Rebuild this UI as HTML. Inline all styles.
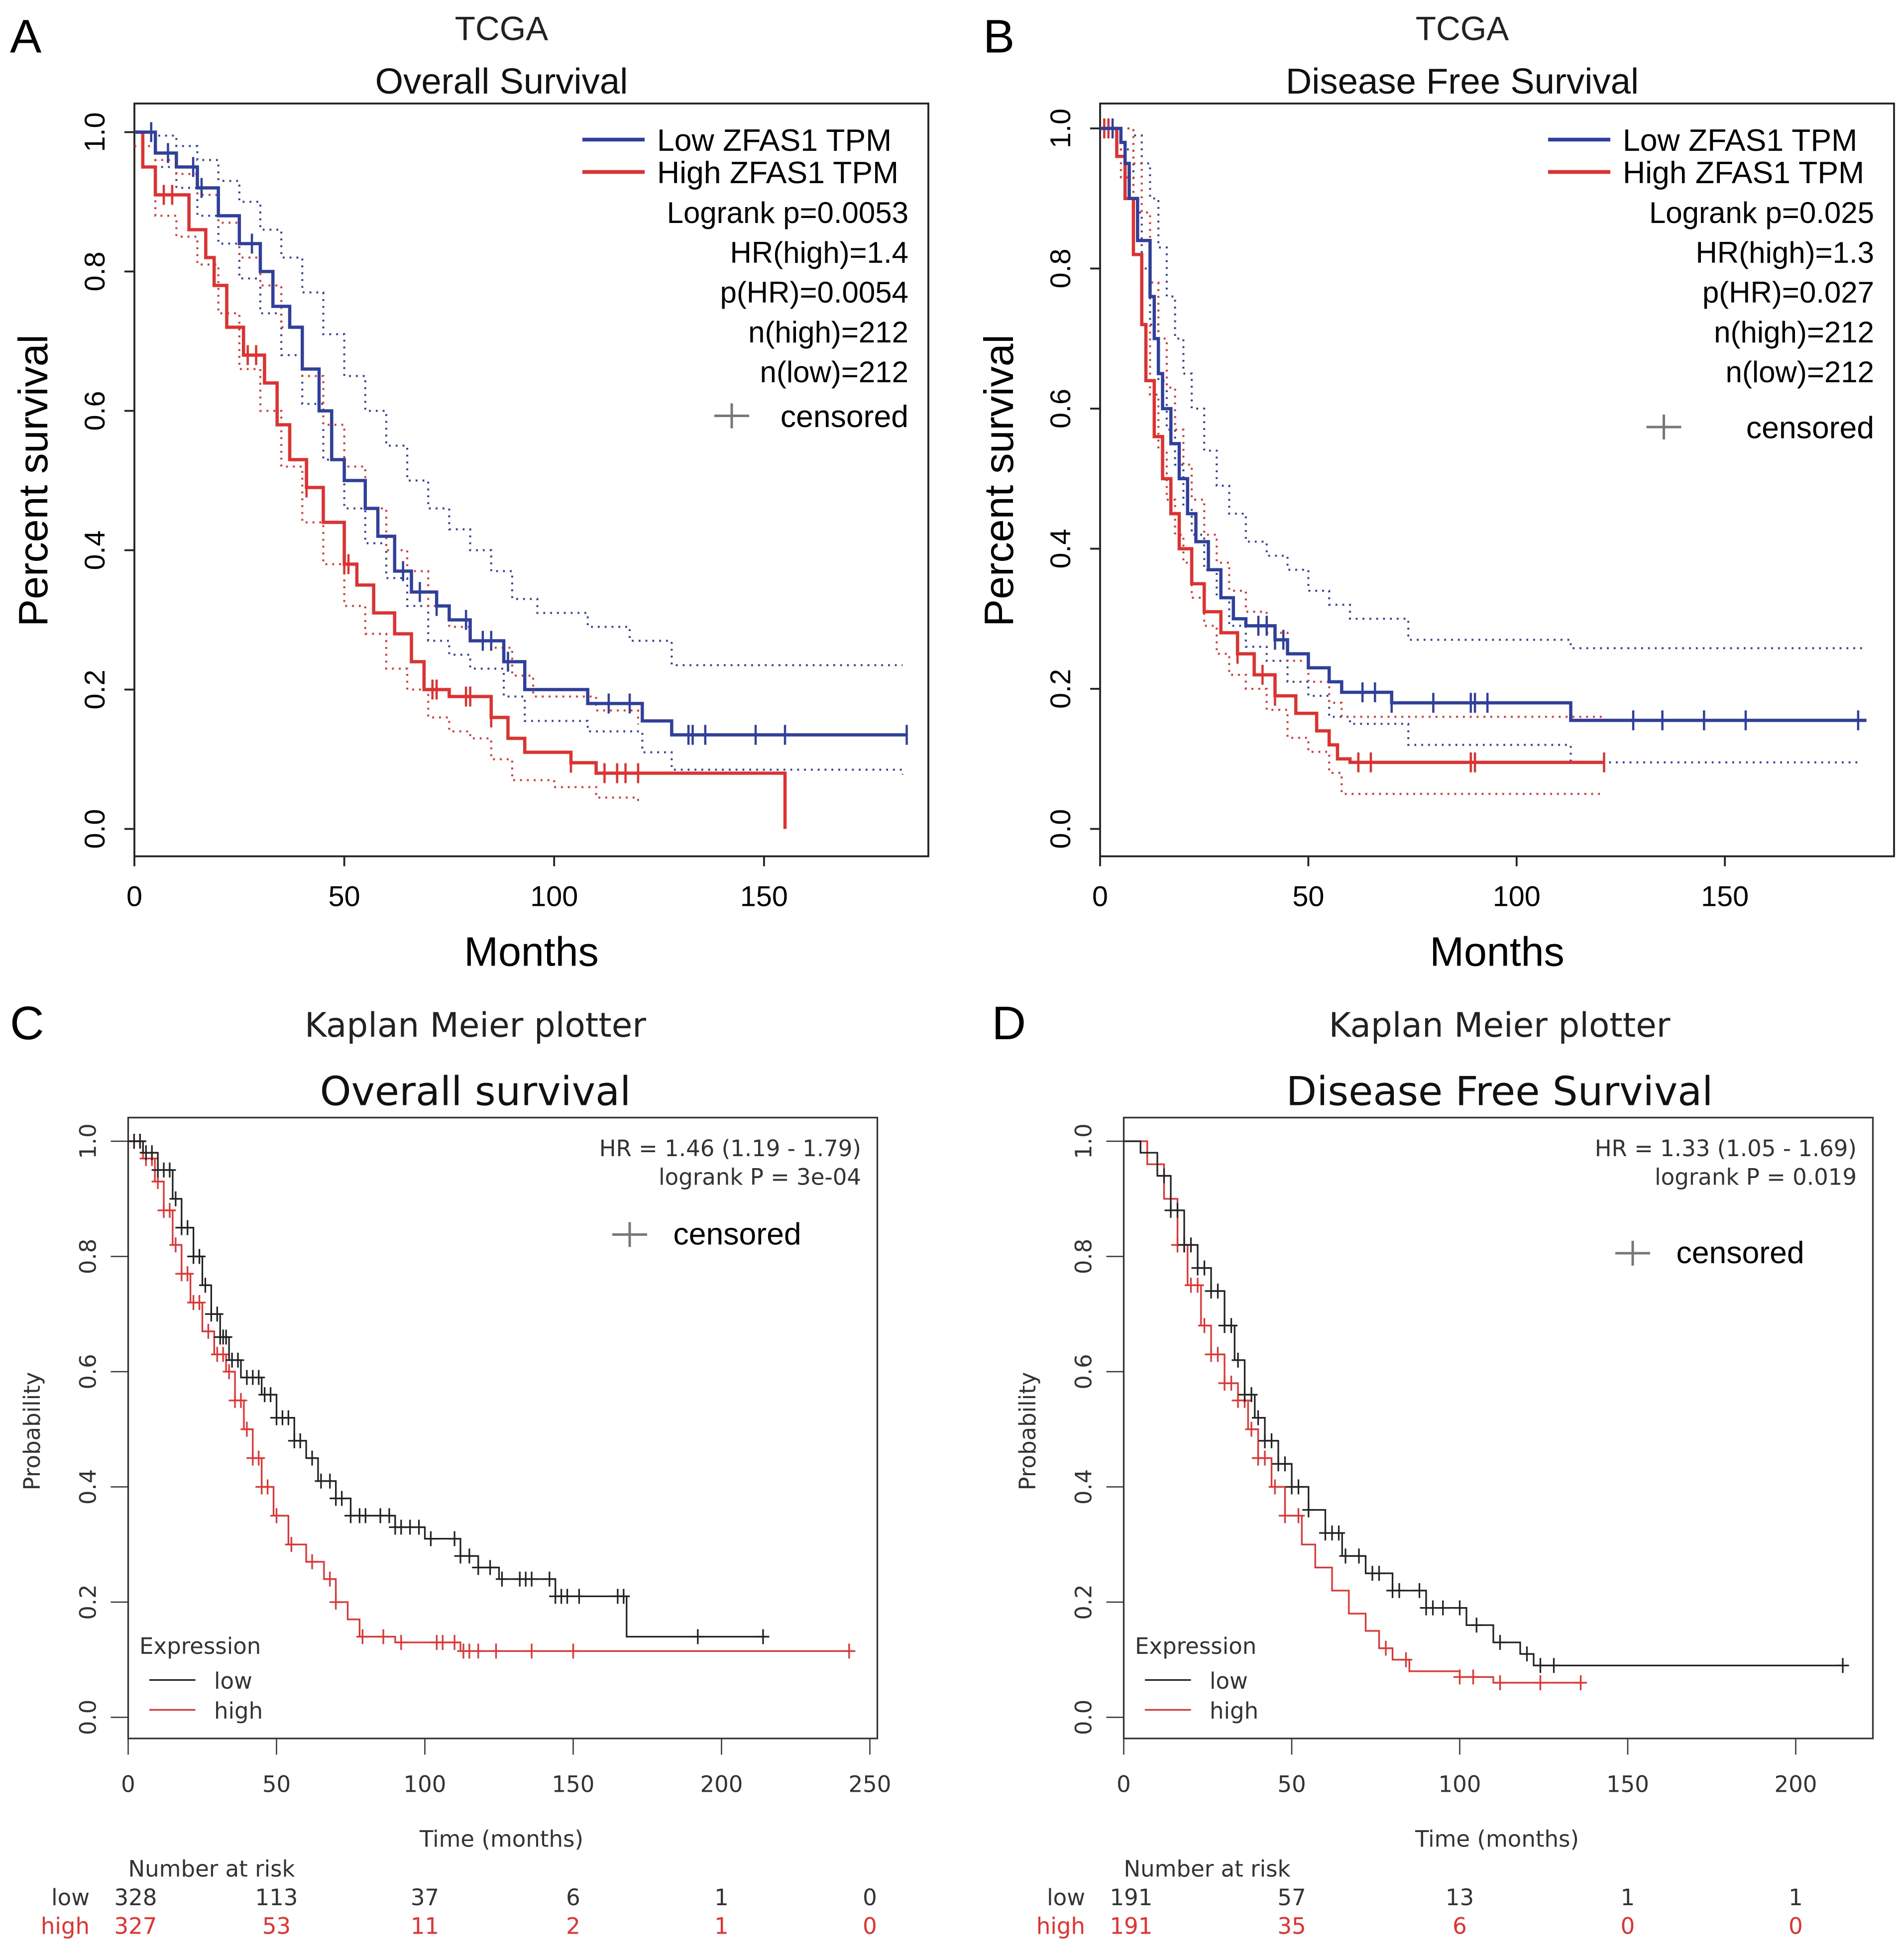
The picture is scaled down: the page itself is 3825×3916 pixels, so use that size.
<!DOCTYPE html>
<html><head><meta charset="utf-8">
<style>
html,body{margin:0;padding:0;background:#fff;}
svg{display:block;}
text{font-family:"Liberation Sans",sans-serif;}
</style></head>
<body>
<svg id="fig" width="3825" height="3916" viewBox="0 0 1530 1566" xmlns="http://www.w3.org/2000/svg">
</svg>
<script>
// ===== Panel A data (TCGA Overall Survival) =====
const aLowSteps = [[0,1],[5,0.97],[10,0.95],[15,0.92],[20,0.88],[25,0.84],[30,0.80],[33,0.75],[37,0.72],[40,0.66],[44,0.60],[47,0.53],[50,0.50],[55,0.46],[58,0.42],[62,0.37],[66,0.34],[72,0.32],[75,0.30],[80,0.27],[88,0.24],[93,0.20],[108,0.18],[121,0.155],[128,0.135]];
const aLowEnd = 184;
const aLowCens = [4,8,14,16,28,64,68,72,79,83,85,89,113,118,132,133,136,148,155,184];
const aHighSteps = [[0,1],[2,0.95],[5,0.91],[13,0.86],[17,0.82],[19,0.78],[22,0.72],[26,0.68],[31,0.64],[34,0.58],[37,0.53],[41,0.49],[45,0.44],[50,0.38],[53,0.35],[57,0.31],[62,0.28],[66,0.24],[69,0.20],[75,0.19],[85,0.16],[89,0.13],[93,0.11],[104,0.095],[110,0.08],[155,0]];
const aHighEnd = 155;
const aHighCens = [7,9,27,29,41,50,51,71,72,79,80,85,104,112,115,117,120];
const aLowUpper = [[0,1],[5,0.995],[10,0.98],[15,0.96],[20,0.93],[25,0.9],[30,0.86],[35,0.82],[40,0.77],[45,0.71],[50,0.65],[55,0.6],[60,0.55],[65,0.5],[70,0.46],[75,0.43],[80,0.40],[85,0.37],[90,0.33],[96,0.31],[108,0.29],[118,0.27],[128,0.235],[183,0.235]];
const aLowLower = [[0,1],[5,0.95],[10,0.92],[15,0.88],[20,0.84],[25,0.79],[30,0.74],[35,0.68],[40,0.61],[45,0.53],[50,0.46],[55,0.41],[60,0.36],[65,0.32],[70,0.27],[75,0.25],[80,0.23],[88,0.19],[93,0.155],[108,0.14],[121,0.11],[128,0.085],[183,0.078]];
const aHighUpper = [[0,1],[5,0.96],[10,0.94],[15,0.91],[20,0.87],[25,0.82],[30,0.78],[35,0.72],[40,0.65],[45,0.58],[50,0.52],[55,0.46],[60,0.40],[65,0.37],[70,0.32],[75,0.29],[80,0.27],[85,0.26],[90,0.22],[95,0.19],[110,0.17],[120,0.15]];
const aHighLower = [[0,0.98],[5,0.88],[10,0.85],[15,0.81],[20,0.74],[25,0.66],[30,0.60],[35,0.52],[40,0.44],[45,0.38],[50,0.32],[55,0.28],[60,0.23],[65,0.20],[70,0.16],[75,0.14],[80,0.13],[85,0.10],[90,0.07],[100,0.06],[110,0.045],[120,0.04]];

// ===== Panel B data (TCGA Disease Free Survival) =====
const bLowSteps = [[0,1],[5,0.98],[6,0.95],[7,0.90],[9,0.84],[12,0.76],[13,0.70],[14,0.65],[15,0.60],[17,0.55],[19,0.50],[21,0.45],[23,0.41],[26,0.37],[29,0.33],[32,0.30],[35,0.29],[42,0.27],[45,0.25],[50,0.23],[55,0.21],[58,0.195],[70,0.18],[74,0.18],[113,0.155]];
const bLowEnd = 184;
const bLowCens = [3,38,40,42,44,63,66,70,80,89,90,93,128,135,145,155,182];
const bHighSteps = [[0,1],[4,0.96],[6,0.90],[8,0.82],[10,0.72],[11,0.64],[13,0.56],[15,0.50],[17,0.45],[19,0.40],[22,0.35],[25,0.31],[29,0.28],[33,0.25],[37,0.22],[42,0.19],[47,0.165],[52,0.14],[55,0.12],[57,0.10],[60,0.095]];
const bHighEnd = 121;
const bHighCens = [1,2,33,39,42,62,65,89,90,121];
const bLowUpper = [[0,1],[5,1],[8,0.99],[10,0.95],[12,0.90],[14,0.83],[16,0.76],[18,0.70],[20,0.65],[22,0.60],[25,0.54],[28,0.49],[31,0.45],[35,0.41],[40,0.39],[45,0.37],[50,0.34],[55,0.32],[60,0.30],[74,0.27],[113,0.258],[183,0.258]];
const bLowLower = [[0,1],[5,0.97],[8,0.88],[10,0.80],[12,0.72],[14,0.64],[16,0.57],[18,0.52],[20,0.46],[22,0.42],[25,0.37],[28,0.33],[31,0.29],[35,0.26],[40,0.24],[45,0.21],[50,0.19],[55,0.16],[60,0.15],[74,0.12],[113,0.095],[183,0.095]];
const bHighUpper = [[0,1],[5,1],[8,0.95],[10,0.88],[12,0.78],[14,0.70],[16,0.63],[18,0.57],[20,0.52],[22,0.47],[25,0.42],[28,0.38],[31,0.34],[35,0.31],[40,0.28],[45,0.24],[50,0.21],[55,0.18],[58,0.16],[121,0.16]];
const bHighLower = [[0,1],[5,0.93],[8,0.82],[10,0.72],[12,0.62],[14,0.54],[16,0.47],[18,0.42],[20,0.38],[22,0.33],[25,0.29],[28,0.25],[31,0.22],[35,0.20],[40,0.17],[45,0.13],[50,0.11],[55,0.08],[58,0.05],[121,0.05]];

// ===== Panel C data (KM plotter OS) =====
const cLowSteps = [[0,1],[5,0.98],[10,0.95],[15,0.90],[18,0.85],[22,0.80],[25,0.75],[28,0.70],[31,0.66],[34,0.62],[38,0.59],[45,0.56],[50,0.52],[56,0.48],[60,0.45],[64,0.41],[70,0.38],[75,0.35],[90,0.33],[100,0.31],[112,0.28],[118,0.26],[125,0.24],[144,0.21],[168,0.14]];
const cLowEnd = 215;
const cLowCens = [2,4,6,8,10,12,14,16,18,20,22,24,26,28,30,31,32,33,35,37,40,42,44,46,48,50,52,54,56,58,62,65,68,70,72,75,78,80,85,88,90,92,95,98,102,110,112,115,118,122,126,132,134,136,142,144,146,148,152,165,167,192,214];
const cHighSteps = [[0,1],[5,0.97],[9,0.93],[12,0.88],[15,0.82],[18,0.77],[21,0.72],[25,0.67],[29,0.63],[33,0.60],[36,0.55],[39,0.50],[42,0.45],[45,0.40],[49,0.35],[54,0.30],[60,0.27],[66,0.24],[70,0.20],[74,0.17],[78,0.14],[90,0.13],[112,0.115]];
const cHighEnd = 244;
const cHighCens = [2,4,6,8,10,12,14,16,18,20,22,24,27,30,32,34,36,38,40,42,44,45,47,50,55,62,68,70,79,86,92,104,106,110,113,115,118,124,136,150,243];
const cTicks = [0,50,100,150,200,250];
const cRiskLow = ["328","113","37","6","1","0"];
const cRiskHigh = ["327","53","11","2","1","0"];

// ===== Panel D data (KM plotter DFS) =====
const dLowSteps = [[0,1],[5,0.98],[10,0.94],[14,0.88],[18,0.82],[22,0.78],[26,0.74],[30,0.68],[33,0.62],[36,0.56],[39,0.52],[42,0.48],[46,0.44],[50,0.40],[55,0.36],[60,0.32],[65,0.28],[72,0.25],[80,0.22],[90,0.19],[102,0.16],[110,0.13],[118,0.11],[122,0.09]];
const dLowEnd = 214;
const dLowCens = [12,14,16,18,20,22,24,26,28,30,32,34,36,38,40,42,44,46,48,50,52,55,60,62,64,66,70,74,76,80,82,88,90,92,95,100,105,112,120,124,128,214];
const dHighSteps = [[0,1],[7,0.96],[12,0.90],[16,0.82],[19,0.75],[23,0.68],[26,0.63],[30,0.58],[34,0.55],[37,0.50],[40,0.45],[44,0.40],[48,0.35],[53,0.30],[57,0.26],[62,0.22],[67,0.18],[72,0.15],[76,0.12],[80,0.10],[85,0.08],[100,0.07],[110,0.06]];
const dHighEnd = 137;
const dHighCens = [16,18,20,22,24,26,28,30,32,34,36,38,40,42,45,48,52,78,84,100,104,112,124,136];
const dTicks = [0,50,100,150,200];
const dRiskLow = ["191","57","13","1","1"];
const dRiskHigh = ["191","35","6","0","0"];

const yTicks = [0,0.2,0.4,0.6,0.8,1.0];
const abTicks = [0,50,100,150];

const NS = "http://www.w3.org/2000/svg";
const svg = document.getElementById('fig');
function mk(tag, attrs, parent, txt){
  const e = document.createElementNS(NS, tag);
  for (const k in attrs){
    if (k === 'font-family') e.style.fontFamily = attrs[k];
    else e.setAttribute(k, attrs[k]);
  }
  if (txt !== undefined) e.textContent = txt;
  (parent||svg).appendChild(e);
  return e;
}
const DJ = '"DejaVu Sans", sans-serif';
function survAt(steps, t){ let v = steps[0][1]; for (const s of steps){ if (s[0] <= t) v = s[1]; } return v; }
function stepPath(steps, end, sx, sy){
  let d = "M"+sx(steps[0][0])+","+sy(steps[0][1]);
  for (let i=1;i<steps.length;i++){ d += " H"+sx(steps[i][0])+" V"+sy(steps[i][1]); }
  d += " H"+sx(end);
  return d;
}
function ciPath(pts, sx, sy){
  let d = "M"+sx(pts[0][0])+","+sy(pts[0][1]);
  for (let i=1;i<pts.length;i++){ d += " H"+sx(pts[i][0])+" V"+sy(pts[i][1]); }
  return d;
}

// ---------- TCGA panels ----------
function tcga(o){
  const g = mk('g', {});
  
  
  const sx = t => o.x0 + t*o.ppm;
  const sy = v => o.y0 - v*(o.y0-o.y1);
  let e;
  e = mk('text', {x:o.lx, y:42, 'font-size':38}, g, o.letter);
   
  e = mk('text', {x:o.cx, y:32, 'font-size':27, 'text-anchor':'middle', fill:'#222'}, g, 'TCGA');
   
  e = mk('text', {x:o.cx, y:75, 'font-size':29, 'text-anchor':'middle', fill:'#111'}, g, o.title);
   
  e = mk('rect', {x:o.fl, y:83, width:o.fr-o.fl, height:605, fill:'none', stroke:'#222', 'stroke-width':1.5}, g);
   
  yTicks.forEach(v=>{
    e = mk('line', {x1:o.fl, x2:o.fl-8, y1:sy(v), y2:sy(v), stroke:'#222','stroke-width':1.5}, g);
     
    e = mk('text', {x:0, y:0, 'font-size':23, 'text-anchor':'middle', transform:`translate(${o.fl-24},${sy(v)}) rotate(-90)`}, g, v.toFixed(1));
     
  });
  abTicks.forEach(t=>{
    e = mk('line', {x1:sx(t), x2:sx(t), y1:688, y2:696, stroke:'#222','stroke-width':1.5}, g);
     
    e = mk('text', {x:sx(t), y:728, 'font-size':23, 'text-anchor':'middle'}, g, String(t));
     
  });
  e = mk('text', {x:(o.fl+o.fr)/2, y:776, 'font-size':33, 'text-anchor':'middle'}, g, 'Months');
   
  e = mk('text', {x:0, y:0, 'font-size':33, 'text-anchor':'middle', transform:`translate(${o.fl-70},386) rotate(-90)`}, g, 'Percent survival');
   
  const blue='#2e3f9e', red='#e2302e';
  [[o.lu,blue],[o.ll,blue],[o.hu,red],[o.hl,red]].forEach(([p,c])=>{
    e = mk('path', {d:ciPath(p,sx,sy), fill:'none', stroke:c, 'stroke-width':1.6, 'stroke-dasharray':'1.5 4'}, g);
     
  });
  [[o.hs,o.he,o.hc,red,'high-curve'],[o.ls,o.le,o.lc,blue,'low-curve']].forEach(([s,en,cs,c,n])=>{
    e = mk('path', {d:stepPath(s,en,sx,sy), fill:'none', stroke:c, 'stroke-width':2.6}, g);
     
    cs.forEach(t=>{
      const y = sy(survAt(s,t));
      e = mk('line', {x1:sx(t), x2:sx(t), y1:y-8, y2:y+8, stroke:c, 'stroke-width':1.8}, g);
       
    });
  });
  // legend
  e = mk('line', {x1:o.lgx, x2:o.lgx+50, y1:112, y2:112, stroke:blue, 'stroke-width':3}, g);
   
  e = mk('line', {x1:o.lgx, x2:o.lgx+50, y1:138, y2:138, stroke:red, 'stroke-width':3}, g);
   
  e = mk('text', {x:o.lgx+60, y:121, 'font-size':25}, g, 'Low ZFAS1 TPM');
   
  e = mk('text', {x:o.lgx+60, y:147, 'font-size':25}, g, 'High ZFAS1 TPM');
   
  o.stats.forEach((s,i)=>{
    e = mk('text', {x:o.rx, y:179+i*32, 'font-size':24, 'text-anchor':'end'}, g, s);
     
  });
  e = mk('path', {d:`M${o.cenx-14},${o.ceny}H${o.cenx+14}M${o.cenx},${o.ceny-10}V${o.ceny+10}`, stroke:'#777','stroke-width':2}, g);
   
  e = mk('text', {x:o.rx, y:o.ceny+9, 'font-size':25, 'text-anchor':'end'}, g, 'censored');
   
}
tcga({name:'panel-a', letter:'A', lx:8, cx:403, title:'Overall Survival', fl:108, fr:746, x0:108, ppm:3.373, y1:106, y0:666,
  ls:aLowSteps, le:aLowEnd, lc:aLowCens, hs:aHighSteps, he:aHighEnd, hc:aHighCens,
  lu:aLowUpper, ll:aLowLower, hu:aHighUpper, hl:aHighLower, lgx:468, rx:730,
  stats:['Logrank p=0.0053','HR(high)=1.4','p(HR)=0.0054','n(high)=212','n(low)=212'], cenx:588, ceny:334});
tcga({name:'panel-b', letter:'B', lx:790, cx:1175, title:'Disease Free Survival', fl:884, fr:1522, x0:884, ppm:3.347, y1:103, y0:666,
  ls:bLowSteps, le:bLowEnd, lc:bLowCens, hs:bHighSteps, he:bHighEnd, hc:bHighCens,
  lu:bLowUpper, ll:bLowLower, hu:bHighUpper, hl:bHighLower, lgx:1244, rx:1506,
  stats:['Logrank p=0.025','HR(high)=1.3','p(HR)=0.027','n(high)=212','n(low)=212'], cenx:1337, ceny:343});

// ---------- KM plotter panels ----------
function kmp(o){
  const g = mk('g', {});
  
  
  const sx = t => o.x0 + t*o.ppm;
  const sy = v => 1380 - v*463;
  let e;
  const dark='#222', red='#e8302f';
  e = mk('text', {x:o.lx, y:835, 'font-size':38}, g, o.letter);
   
  e = mk('text', {x:o.cx, y:833, 'font-size':27, 'text-anchor':'middle', fill:'#222','font-family':DJ}, g, 'Kaplan Meier plotter');
   
  e = mk('text', {x:o.cx, y:888, 'font-size':32, 'text-anchor':'middle', fill:'#111','font-family':DJ}, g, o.title);
   
  e = mk('rect', {x:o.x0, y:898, width:602, height:499, fill:'none', stroke:'#333','stroke-width':1.3}, g);
   
  yTicks.forEach(v=>{
    e = mk('line', {x1:o.x0-14, x2:o.x0, y1:sy(v), y2:sy(v), stroke:'#333'}, g);
     
    e = mk('text', {x:0, y:0, 'font-size':18, 'text-anchor':'middle', fill:'#333','font-family':DJ, transform:`translate(${o.x0-26},${sy(v)}) rotate(-90)`}, g, v.toFixed(1));
     
  });
  o.ticks.forEach(t=>{
    e = mk('line', {x1:sx(t), x2:sx(t), y1:1397, y2:1410, stroke:'#333'}, g);
     
    e = mk('text', {x:sx(t), y:1440, 'font-size':18, 'text-anchor':'middle', fill:'#333','font-family':DJ}, g, String(t));
     
  });
  e = mk('text', {x:o.x0+300, y:1484, 'font-size':18, 'text-anchor':'middle', fill:'#333','font-family':DJ}, g, 'Time (months)');
   
  e = mk('text', {x:0, y:0, 'font-size':18, 'text-anchor':'middle', fill:'#333','font-family':DJ, transform:`translate(${o.x0-71},1150) rotate(-90)`}, g, 'Probability');
   
  [[o.hs,o.he,o.hc,red,'high-curve'],[o.ls,o.le,o.lc,dark,'low-curve']].forEach(([s,en,cs,c,n])=>{
    e = mk('path', {d:stepPath(s,en,sx,sy), fill:'none', stroke:c, 'stroke-width':1.3}, g);
     
    cs.forEach(t=>{
      const x = sx(t), y = sy(survAt(s,t));
      e = mk('path', {d:`M${x-5},${y}H${x+5}M${x},${y-6}V${y+6}`, stroke:c, 'stroke-width':1.3}, g);
       
    });
  });
  o.hr.forEach((s,i)=>{
    e = mk('text', {x:o.x0+589, y:929+i*23, 'font-size':18, 'text-anchor':'end', fill:'#333','font-family':DJ}, g, s);
     
  });
  e = mk('path', {d:`M${o.cenx-14},${o.ceny}H${o.cenx+14}M${o.cenx},${o.ceny-10}V${o.ceny+10}`, stroke:'#777','stroke-width':2}, g);
   
  e = mk('text', {x:o.cenx+35, y:o.ceny+8, 'font-size':25}, g, 'censored');
   
  e = mk('text', {x:o.x0+9, y:1329, 'font-size':18, fill:'#333','font-family':DJ}, g, 'Expression');
   
  e = mk('line', {x1:o.x0+17, x2:o.x0+54, y1:1350, y2:1350, stroke:dark,'stroke-width':1.3}, g);
   
  e = mk('line', {x1:o.x0+17, x2:o.x0+54, y1:1374, y2:1374, stroke:red,'stroke-width':1.3}, g);
   
  e = mk('text', {x:o.x0+69, y:1357, 'font-size':18, fill:'#333','font-family':DJ}, g, 'low');
   
  e = mk('text', {x:o.x0+69, y:1381, 'font-size':18, fill:'#333','font-family':DJ}, g, 'high');
   
  e = mk('text', {x:o.x0, y:1508, 'font-size':18, fill:'#333','font-family':DJ}, g, 'Number at risk');
   
  e = mk('text', {x:o.x0-31, y:1531, 'font-size':18, 'text-anchor':'end', fill:'#333','font-family':DJ}, g, 'low');
   
  e = mk('text', {x:o.x0-31, y:1554, 'font-size':18, 'text-anchor':'end', fill:red,'font-family':DJ}, g, 'high');
   
  o.ticks.forEach((t,i)=>{
    const x = sx(t) + (i===0?6:0);
    e = mk('text', {x:x, y:1531, 'font-size':18, 'text-anchor':'middle', fill:'#333','font-family':DJ}, g, o.rl[i]);
     
    e = mk('text', {x:x, y:1554, 'font-size':18, 'text-anchor':'middle', fill:red,'font-family':DJ}, g, o.rh[i]);
     
  });
}
kmp({name:'panel-c', letter:'C', lx:8, cx:382, title:'Overall survival', x0:103, ppm:2.384, ticks:cTicks,
  ls:cLowSteps, le:cLowEnd, lc:cLowCens, hs:cHighSteps, he:cHighEnd, hc:cHighCens,
  hr:['HR = 1.46 (1.19 - 1.79)','logrank P = 3e-04'], cenx:506, ceny:992, rl:cRiskLow, rh:cRiskHigh});
kmp({name:'panel-d', letter:'D', lx:797, cx:1205, title:'Disease Free Survival', x0:903, ppm:2.7, ticks:dTicks,
  ls:dLowSteps, le:dLowEnd, lc:dLowCens, hs:dHighSteps, he:dHighEnd, hc:dHighCens,
  hr:['HR = 1.33 (1.05 - 1.69)','logrank P = 0.019'], cenx:1312, ceny:1007, rl:dRiskLow, rh:dRiskHigh});
</script>
</body></html>
